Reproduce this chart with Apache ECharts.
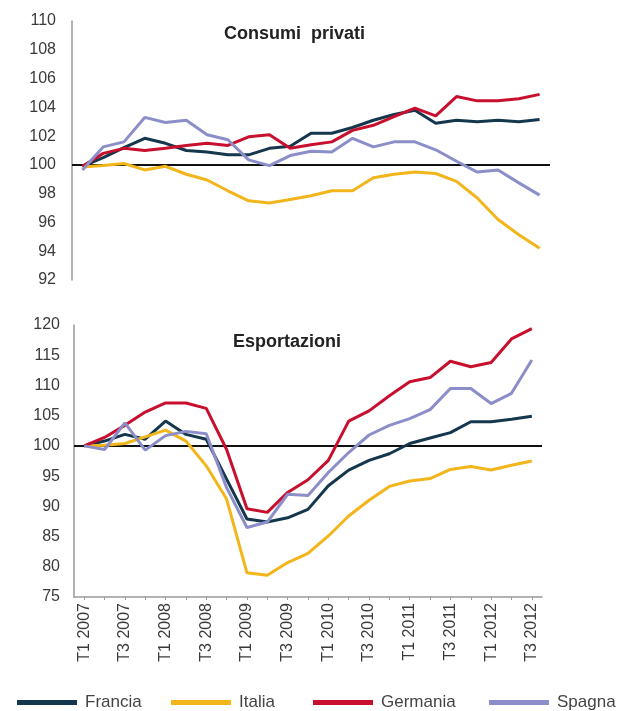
<!DOCTYPE html>
<html>
<head>
<meta charset="utf-8">
<script src="https://cdn.jsdelivr.net/npm/echarts@6/dist/echarts.min.js"></script>
<style>
  html, body { margin: 0; padding: 0; background: #fff; }
  #picture { width: 625px; height: 711px; }
</style>
</head>
<body>
<div id="picture"></div>
<script>
// trimestri T1 2007 .. T3 2012
var quarters = [];
for (var y = 2007; y <= 2012; y++) {
    for (var q = 1; q <= 4; q++) {
        if (y == 2012 && q == 4) break;
        quarters.push('T' + q + ' ' + y);
    }
}

var names = ['Francia', 'Italia', 'Germania', 'Spagna'];
var colors = ['#15374d', '#f2b51a', '#c8102e', '#8b8ec8'];

// Consumi privati (indice, T1 2007 = 100)
var consFrancia  = [99.9, 100.5, 101.2, 101.85, 101.5, 101.0, 100.9, 100.7, 100.7, 101.15, 101.3, 102.2, 102.2, 102.6, 103.1, 103.5, 103.8, 102.9, 103.1, 103.0, 103.1, 103.0, 103.15];
var consItalia   = [99.85, 99.95, 100.1, 99.65, 99.9, 99.35, 98.95, 98.2, 97.5, 97.35, 97.6, 97.85, 98.2, 98.2, 99.1, 99.35, 99.5, 99.4, 98.85, 97.7, 96.2, 95.15, 94.2];
var consGermania = [99.9, 100.8, 101.15, 101.0, 101.15, 101.35, 101.5, 101.35, 101.95, 102.1, 101.15, 101.4, 101.6, 102.4, 102.75, 103.35, 103.95, 103.4, 104.75, 104.45, 104.45, 104.6, 104.9];
var consSpagna   = [99.65, 101.25, 101.6, 103.3, 102.95, 103.1, 102.1, 101.75, 100.35, 99.95, 100.65, 100.95, 100.9, 101.85, 101.25, 101.6, 101.6, 101.05, 100.25, 99.5, 99.65, 98.75, 97.9];

// Esportazioni (indice, T1 2007 = 100)
var espFrancia  = [100, 100.8, 101.9, 101.1, 104.1, 101.9, 101.1, 94.5, 87.9, 87.4, 88.1, 89.5, 93.4, 96.0, 97.6, 98.7, 100.4, 101.3, 102.2, 104.0, 104.0, 104.4, 104.9];
var espItalia   = [100, 100.1, 100.4, 101.5, 102.6, 100.8, 96.7, 91.2, 79.0, 78.6, 80.7, 82.2, 85.1, 88.4, 91.0, 93.3, 94.2, 94.6, 96.1, 96.6, 96.0, 96.8, 97.5];
var espGermania = [100, 101.4, 103.4, 105.6, 107.1, 107.1, 106.2, 99.4, 89.6, 89.0, 92.3, 94.4, 97.6, 104.1, 105.8, 108.3, 110.6, 111.3, 114.0, 113.1, 113.8, 117.7, 119.4];
var espSpagna   = [100, 99.4, 103.8, 99.3, 101.7, 102.4, 102.0, 93.1, 86.5, 87.4, 92.0, 91.8, 95.6, 98.9, 101.8, 103.4, 104.5, 106.0, 109.5, 109.5, 107.0, 108.7, 114.2];

var consData = [consFrancia, consItalia, consGermania, consSpagna];
var espData = [espFrancia, espItalia, espGermania, espSpagna];

var fontName = 'Liberation Sans, Arial, sans-serif';

function makeSeries(data, idx) {
    var out = [];
    for (var i = 0; i < names.length; i++) {
        var s = {
            name: names[i],
            type: 'line',
            xAxisIndex: idx,
            yAxisIndex: idx,
            data: data[i],
            symbol: 'none',
            lineStyle: { width: 3, color: colors[i] },
            itemStyle: { color: colors[i] },
            z: 3
        };
        if (i == 0) {
            // linea di riferimento a 100
            s.markLine = {
                silent: true,
                symbol: 'none',
                label: { show: false },
                lineStyle: { color: '#111', width: 2, type: 'solid' },
                data: [{ yAxis: 100 }],
                z: 2
            };
        }
        out.push(s);
    }
    return out;
}

var legendLeft = [12, 166, 308, 484];
var legends = [];
for (var i = 0; i < names.length; i++) {
    legends.push({
        left: legendLeft[i],
        top: 689,
        data: [names[i]],
        icon: 'rect',
        itemWidth: 60,
        itemHeight: 5,
        itemGap: 0,
        textStyle: { fontFamily: fontName, fontSize: 17, color: '#444', padding: [0, 0, 0, 3] }
    });
}

var myChart = echarts.init(document.getElementById('picture'));
var option = {
    backgroundColor: '#fff',
    animation: false,
    title: [
        {
            text: 'Consumi  privati',
            left: 219,
            top: 20,
            textStyle: { fontFamily: fontName, fontSize: 18, fontWeight: 'bold', color: '#222' }
        },
        {
            text: 'Esportazioni',
            left: 228,
            top: 328,
            textStyle: { fontFamily: fontName, fontSize: 18, fontWeight: 'bold', color: '#222' }
        }
    ],
    legend: legends,
    grid: [
        { left: 72, right: 75, top: 21, height: 259 },
        { left: 74, right: 83, top: 325, height: 272 }
    ],
    xAxis: [
        {
            type: 'category',
            gridIndex: 0,
            data: quarters,
            boundaryGap: true,
            axisLine: { show: false },
            axisTick: { show: false },
            axisLabel: { show: false },
            splitLine: { show: false }
        },
        {
            type: 'category',
            gridIndex: 1,
            data: quarters,
            boundaryGap: true,
            axisLine: { show: true, lineStyle: { color: '#999', width: 1.5 } },
            axisTick: { show: true, alignWithLabel: true, interval: 0, length: 3, lineStyle: { color: '#999' } },
            axisLabel: {
                interval: 1,
                rotate: 90,
                margin: 6,
                fontFamily: fontName,
                fontSize: 16,
                color: '#3a3a3a'
            },
            splitLine: { show: false }
        }
    ],
    yAxis: [
        {
            type: 'value',
            gridIndex: 0,
            min: 92,
            max: 110,
            interval: 2,
            axisLine: { show: true, lineStyle: { color: '#999', width: 1.5 } },
            axisTick: { show: false },
            axisLabel: { margin: 16, fontFamily: fontName, fontSize: 16, color: '#3a3a3a' },
            splitLine: { show: false }
        },
        {
            type: 'value',
            gridIndex: 1,
            min: 75,
            max: 120,
            interval: 5,
            axisLine: { show: true, lineStyle: { color: '#999', width: 1.5 } },
            axisTick: { show: false },
            axisLabel: { margin: 14, fontFamily: fontName, fontSize: 16, color: '#3a3a3a' },
            splitLine: { show: false }
        }
    ],
    series: makeSeries(consData, 0).concat(makeSeries(espData, 1))
};
myChart.setOption(option);
</script>
</body>
</html>
